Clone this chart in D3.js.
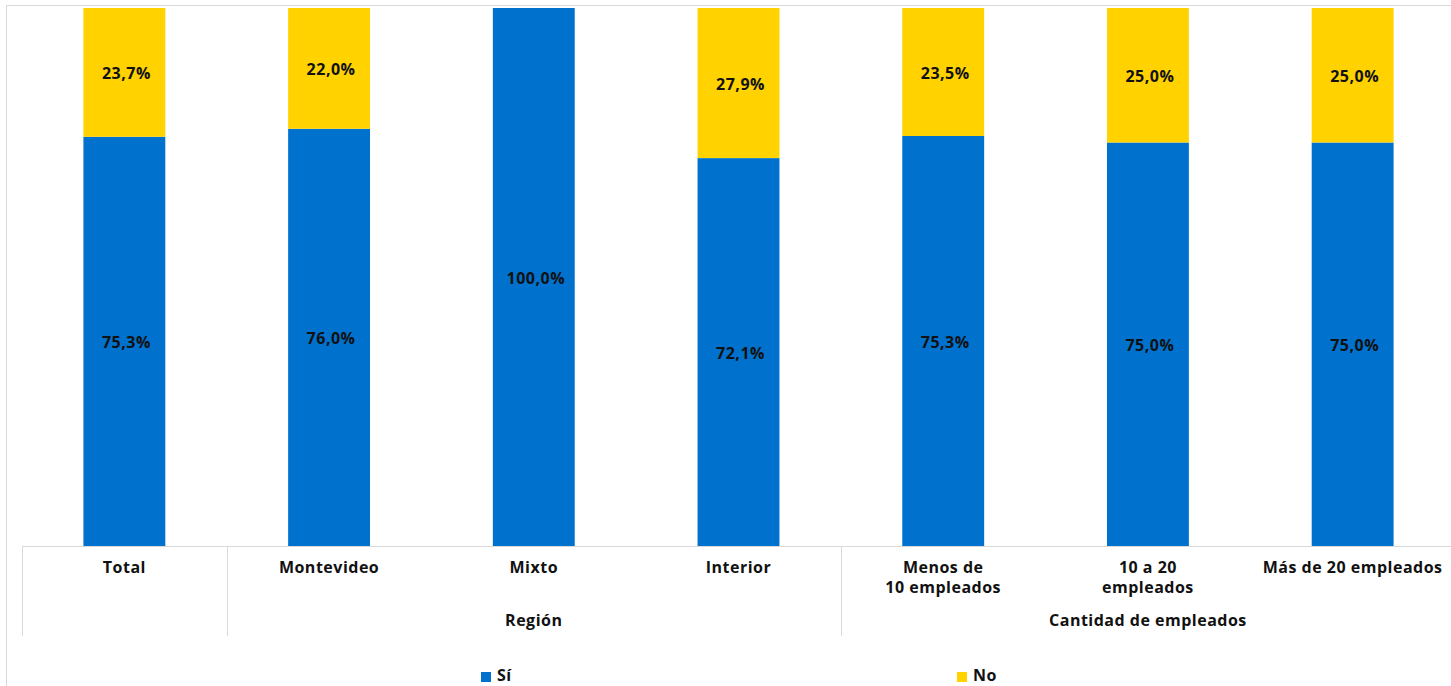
<!DOCTYPE html>
<html>
<head>
<meta charset="UTF-8">
<script src="https://d3js.org/d3.v7.min.js"></script>
<style>
  body { margin: 0; background: #fff; }
  text { font-family: "Open Sans", sans-serif; font-weight: 700; fill: #111; letter-spacing: 0.5px; }
</style>
</head>
<body>
<svg id="canvas"></svg>
<script>
// data
const categories = ["Total", "Montevideo", "Mixto", "Interior", "Menos de|10 empleados", "10 a 20|empleados", "Más de 20 empleados"];
const si = [75.3, 76.0, 100.0, 72.1, 75.3, 75.0, 75.0];
const no = [23.7, 22.0, 0, 27.9, 23.5, 25.0, 25.0];
const groups = [
  { name: "", from: 0, to: 0 },
  { name: "Región", from: 1, to: 3 },
  { name: "Cantidad de empleados", from: 4, to: 6 }
];
const seriesNames = ["Sí", "No"];
const colors = ["#0072CE", "#FFD200"];

const width = 1451, height = 686;
const plotLeft = 22, plotRight = 1455, plotTop = 8, plotBottom = 546;

const svg = d3.select("#canvas").attr("width", width).attr("height", height);

// outer frame
svg.append("rect")
  .attr("x", 6.5).attr("y", 5.5)
  .attr("width", width + 10).attr("height", height + 10)
  .attr("fill", "none").attr("stroke", "#d9d9d9");

const rows = categories.map((c, i) => ({ cat: c, "Sí": si[i], "No": no[i] }));

const x = d3.scaleBand().domain(categories).range([plotLeft, plotRight]).paddingInner(0).paddingOuter(0);
const y = d3.scaleLinear().domain([0, 1]).range([plotBottom, plotTop]);
const bw = x.bandwidth() * 0.4;

const stack = d3.stack().keys(seriesNames).offset(d3.stackOffsetExpand);
const layers = stack(rows);

layers.forEach((layer, li) => {
  const g = svg.append("g");
  g.selectAll("rect").data(layer).enter().append("rect")
    .attr("x", d => x(d.data.cat) + (x.bandwidth() - bw) / 2)
    .attr("width", bw)
    .attr("y", d => y(d[1]))
    .attr("height", d => y(d[0]) - y(d[1]))
    .attr("fill", colors[li]);
  g.selectAll("text").data(layer.filter(d => d.data[layer.key] > 0)).enter().append("text")
    .attr("x", d => x(d.data.cat) + x.bandwidth() / 2 + 2)
    .attr("y", d => (y(d[0]) + y(d[1])) / 2 + 7)
    .attr("text-anchor", "middle")
    .style("font-size", "16px")
    .text(d => d3.format(".1f")(d.data[layer.key]).replace(".", ",") + "%");
});

// axis line
svg.append("line")
  .attr("x1", plotLeft).attr("x2", plotRight)
  .attr("y1", plotBottom + 0.5).attr("y2", plotBottom + 0.5)
  .attr("stroke", "#d9d9d9");

// group dividers
const dividers = [0, 1, 4];
dividers.forEach(i => {
  const xx = Math.round(x(categories[i])) + 0.5;
  svg.append("line")
    .attr("x1", xx).attr("x2", xx)
    .attr("y1", plotBottom).attr("y2", 636)
    .attr("stroke", "#d9d9d9");
});

// category labels
categories.forEach(c => {
  const t = svg.append("text")
    .attr("x", x(c) + x.bandwidth() / 2)
    .attr("y", 573)
    .attr("text-anchor", "middle")
    .style("font-size", "16px");
  c.split("|").forEach((line, k) => {
    t.append("tspan").attr("x", x(c) + x.bandwidth() / 2).attr("dy", k ? 20 : 0).text(line);
  });
});

// group labels
groups.filter(g => g.name).forEach(g => {
  const cx = (x(categories[g.from]) + x(categories[g.to]) + x.bandwidth()) / 2;
  svg.append("text")
    .attr("x", cx).attr("y", 626)
    .attr("text-anchor", "middle")
    .style("font-size", "16px")
    .text(g.name);
});

// legend
const legendX = [481, 957];
seriesNames.forEach((s, i) => {
  svg.append("rect")
    .attr("x", legendX[i]).attr("y", 672)
    .attr("width", 10).attr("height", 10)
    .attr("fill", colors[i]);
  svg.append("text")
    .attr("x", legendX[i] + 16).attr("y", 681)
    .style("font-size", "16px")
    .text(s);
});
</script>
</body>
</html>
